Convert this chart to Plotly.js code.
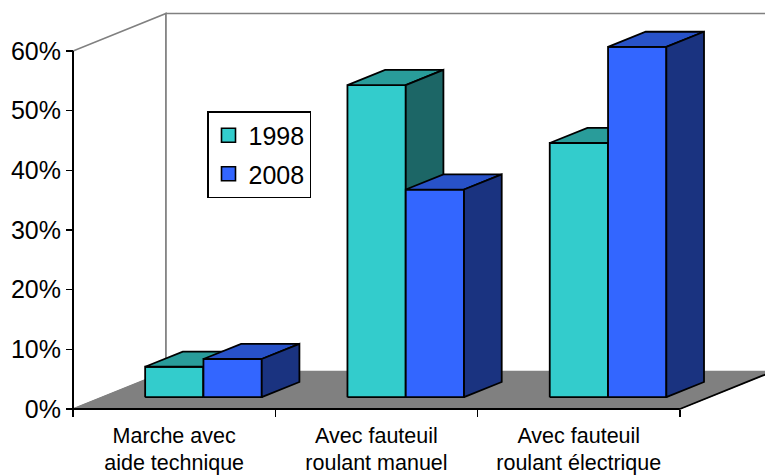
<!DOCTYPE html>
<html>
<head>
<meta charset="utf-8">
<script src="https://cdn.plot.ly/plotly-3.0.1.min.js"></script>
<style>html,body{margin:0;padding:0;background:#fff;}#chart{width:765px;height:476px;}</style>
</head>
<body>
<div id="chart"></div>
<script>
// ---- data ----
const categories = ['Marche avec<br>aide technique', 'Avec fauteuil<br>roulant manuel', 'Avec fauteuil<br>roulant électrique'];
const seriesNames = ['1998', '2008'];
const values1998 = [5.1, 52.3, 42.6];
const values2008 = [6.4, 34.8, 58.7];
const yTickVals = [0, 10, 20, 30, 40, 50, 60];
const yTickText = ['0%', '10%', '20%', '30%', '40%', '50%', '60%'];

// ---- styling / geometry ----
const FONT = 'Liberation Sans, Arial, sans-serif';
const W = 765, H = 476;
const M = {l: 70, r: 0, t: 11, b: 64};
const PXX = 202.3;          // px per category
const PXY = 5.967;          // px per percent
const DX = 93 / PXX;        // full depth offset (x units)
const DY = 37.5 / PXY;      // full depth offset (y units)
const T0 = 0.315, T1 = 0.72; // bar front/back depth fraction
const BW = 58.3 / PXX;      // bar width
const YMAX = 60;
const plotW = W - M.l - M.r, plotH = H - M.t - M.b;
const x0r = -0.5 - 3 / PXX, y0r = -3 / PXY;
const colors = [
  {front: '#33CCCC', top: '#299C9A', side: '#1C6666'},
  {front: '#3366FF', top: '#2852C8', side: '#1A3380'}
];
const OUT = '#000000', GRAY = '#808080';

const traces = [];
function poly(pts, fill, lineColor, lw) {
  const xs = pts.map(p => p[0]), ys = pts.map(p => p[1]);
  xs.push(pts[0][0]); ys.push(pts[0][1]);
  traces.push({type: 'scatter', mode: 'lines', x: xs, y: ys, fill: fill ? 'toself' : 'none',
    fillcolor: fill || 'rgba(0,0,0,0)', line: {color: lineColor, width: lw},
    hoverinfo: 'skip', showlegend: false});
}
function line(pts, color, lw) {
  traces.push({type: 'scatter', mode: 'lines', x: pts.map(p => p[0]), y: pts.map(p => p[1]),
    line: {color: color, width: lw}, hoverinfo: 'skip', showlegend: false});
}
const n = categories.length;
const L = -0.5, R = n - 0.5;
// walls
poly([[L, 0], [L, YMAX], [L + DX, YMAX + DY], [L + DX, DY]], '#ffffff', GRAY, 1.6);
poly([[L + DX, DY], [L + DX, YMAX + DY], [R + DX, YMAX + DY], [R + DX, DY]], '#ffffff', GRAY, 1.6);
// floor
poly([[L, 0], [R, 0], [R + DX, DY], [L + DX, DY]], GRAY, GRAY, 1);
line([[L, 0], [R, 0]], OUT, 2);
line([[R, 0], [R + DX, DY]], OUT, 1.8);
line([[L, 0], [L, YMAX]], OUT, 2);

// bars
const allValues = [values1998, values2008];
allValues.forEach((vals, s) => {
  vals.forEach((v, i) => {
    const xa = i + (s === 0 ? -BW : 0), xb = xa + BW;
    const fx = T0 * DX, fy = T0 * DY, bx = T1 * DX, by = T1 * DY;
    const c = colors[s];
    poly([[xa + fx, fy], [xb + fx, fy], [xb + fx, v + fy], [xa + fx, v + fy]], c.front, OUT, 1.8);
    poly([[xa + fx, v + fy], [xb + fx, v + fy], [xb + bx, v + by], [xa + bx, v + by]], c.top, OUT, 1.8);
    poly([[xb + fx, fy], [xb + bx, by], [xb + bx, v + by], [xb + fx, v + fy]], c.side, OUT, 1.8);
  });
});

// legend entries
seriesNames.forEach((name, s) => {
  traces.push({type: 'scatter', mode: 'markers', x: [null], y: [null], name: name,
    legendgroup: name, showlegend: true,
    marker: {symbol: 'square', size: 14, color: colors[s].front, line: {color: OUT, width: 1.6}}});
});

const layout = {
  width: W, height: H,
  margin: M,
  paper_bgcolor: '#ffffff', plot_bgcolor: 'rgba(0,0,0,0)',
  font: {family: FONT, color: '#000000'},
  showlegend: true,
  legend: {x: (207 - M.l) / plotW, y: (H - M.b - 111) / plotH, xanchor: 'left', yanchor: 'top',
    bgcolor: '#ffffff', bordercolor: '#000000', borderwidth: 1.5,
    font: {family: FONT, size: 25, color: '#000000'},
    traceorder: 'grouped', tracegroupgap: 3, itemclick: false},
  xaxis: {range: [x0r, x0r + plotW / PXX], tickmode: 'array', tickvals: categories.map((c, i) => i),
    ticktext: categories, ticks: '', showgrid: false, zeroline: false, showline: false,
    anchor: 'free', position: 3 / plotH, ticklabelstandoff: 11,
    tickfont: {family: FONT, size: 21.5, color: '#000000'},
    minor: {tickmode: 'array', tickvals: [-0.5, 0.5, 1.5, 2.5], ticks: 'outside', ticklen: 7,
      tickwidth: 1.5, tickcolor: '#000000', showgrid: false},
    fixedrange: true},
  yaxis: {range: [y0r, y0r + plotH / PXY], tickmode: 'array', tickvals: yTickVals, ticktext: yTickText,
    ticks: 'outside', ticklen: 7, tickwidth: 1.5, tickcolor: '#000000', showgrid: false,
    zeroline: false, showline: false, anchor: 'free', position: 3 / plotW,
    tickfont: {family: FONT, size: 25, color: '#000000'}, fixedrange: true},
  hovermode: false
};
Plotly.newPlot('chart', traces, layout, {displayModeBar: false, staticPlot: true});
</script>
</body>
</html>
